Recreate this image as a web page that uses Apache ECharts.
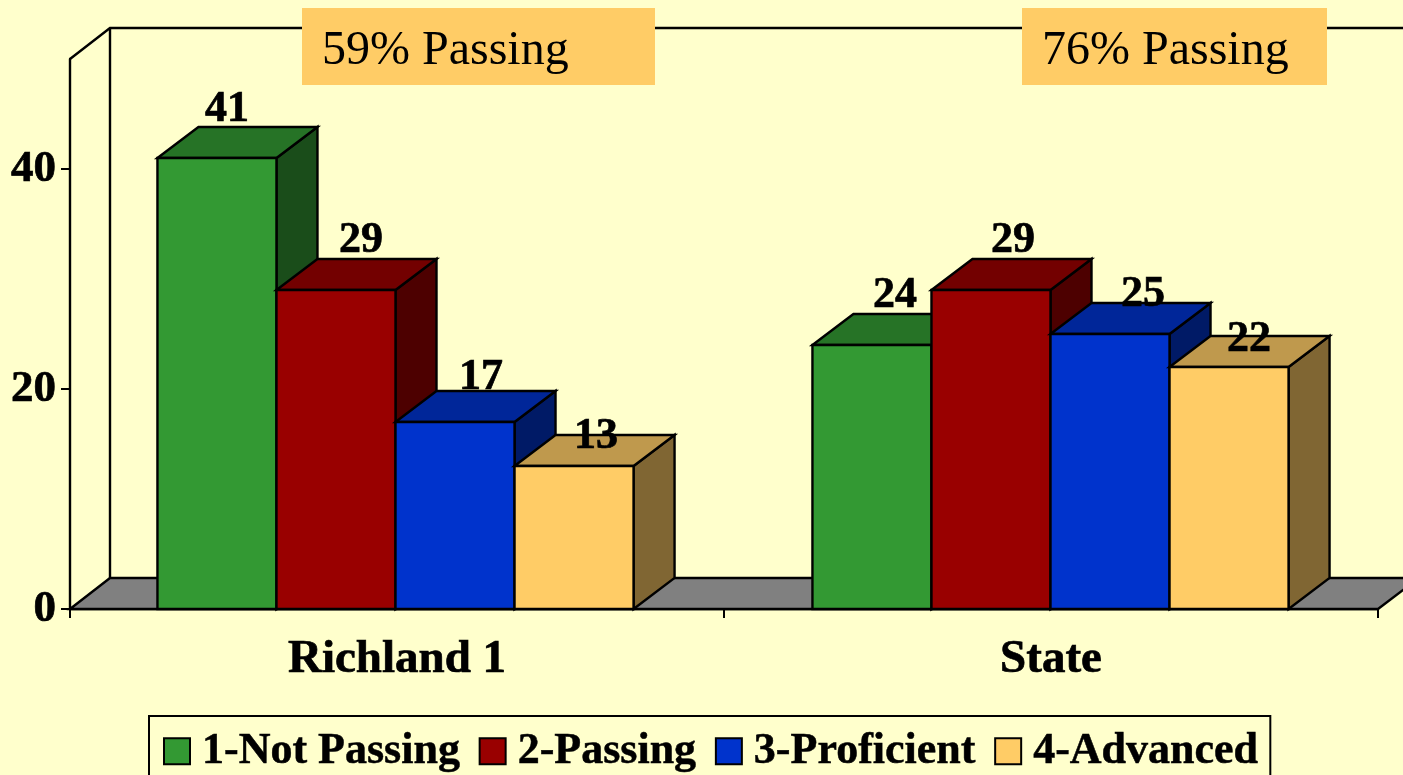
<!DOCTYPE html>
<html>
<head>
<meta charset="utf-8">
<style>html,body{margin:0;padding:0;background:#FFFFCC;overflow:hidden}#c{width:1403px;height:775px}</style>
<script src="https://cdn.jsdelivr.net/npm/echarts@6/dist/echarts.min.js"></script>
</head>
<body>
<div id="c"></div>
<script>
const categories = ['Richland 1', 'State'];
const seriesNames = ['1-Not Passing', '2-Passing', '3-Proficient', '4-Advanced'];
const notPassing = [41, 24];
const passing = [29, 29];
const proficient = [17, 25];
const advanced = [13, 22];
const yTicks = [0, 20, 40];
const notes = ['59% Passing', '76% Passing'];

// styling
const FONT = '"Liberation Serif","Times New Roman",serif';
const palette = [
  {front:'#339933', top:'#267326', side:'#1A4D1A'},
  {front:'#990000', top:'#730000', side:'#4D0000'},
  {front:'#0033CC', top:'#002699', side:'#001A66'},
  {front:'#FFCC66', top:'#BF994D', side:'#806633'}
];
const DX = 41, DY = 31;
const groupNudge = [-1.5, -0.5];
// label placement relative to each bar's front-top centre, per series then category
const labelShift = [
  [[10,-48],[23,-49]],
  [[25,-49],[22,-49]],
  [[26,-44],[33,-39]],
  [[22,-29],[20,-27]]
];
const allValues = [notPassing, passing, proficient, advanced];
const EDGE = 2.4;

function poly(points, fill) {
  return {type:'polygon', shape:{points}, style:{fill, stroke:'#000', lineWidth:EDGE, lineJoin:'miter'}};
}
function barRenderer(si) {
  return function (params, api) {
    const cat = api.value(0), v = api.value(1);
    const base = api.coord([cat, 0]), top = api.coord([cat, v]);
    const w = api.size([1, 0])[0] * 0.182;
    const x0 = base[0] + groupNudge[cat] + (si - 2) * w, x1 = x0 + w;
    const y0 = base[1], y1 = top[1];
    const c = palette[si];
    const shift = labelShift[si][params.dataIndex];
    return {type:'group', children:[
      poly([[x1,y0],[x1+DX,y0-DY],[x1+DX,y1-DY],[x1,y1]], c.side),
      poly([[x0,y1],[x0+DX,y1-DY],[x1+DX,y1-DY],[x1,y1]], c.top),
      poly([[x0,y0],[x0,y1],[x1,y1],[x1,y0]], c.front),
      {type:'text', z2:100, x:(x0+x1)/2+shift[0], y:y1+shift[1],
       style:{text:String(v), font:'bold 44px '+FONT, fill:'#000', stroke:'#000', lineWidth:0.7, align:'center', verticalAlign:'middle'}}
    ]};
  };
}
function frameRenderer(params) {
  const g = params.coordSys;
  const L = g.x, R = g.x + g.width, T = g.y, B = g.y + g.height;
  return {type:'group', children:[
    {type:'polyline', shape:{points:[[L,T],[L+DX-1,T-DY],[R+DX,T-DY]]}, style:{fill:null, stroke:'#000', lineWidth:EDGE}},
    {type:'line', shape:{x1:L+DX-1,y1:T-DY,x2:L+DX-1,y2:B-DY}, style:{stroke:'#000', lineWidth:EDGE}},
    poly([[L,B],[L+DX-1,B-DY],[R+DX,B-DY],[R,B]], '#808080')
  ]};
}

const series = [{
  type:'custom', name:'frame', data:[[0,0]], clip:false, silent:true, z:1,
  renderItem:frameRenderer, encode:{x:0,y:1}
}].concat(seriesNames.map((name, si) => ({
  type:'custom', name, z:2, clip:false,
  data: allValues[si].map((v, i) => [i, v]),
  encode:{x:0, y:1},
  itemStyle:{color:palette[si].front, borderColor:'#000', borderWidth:EDGE},
  renderItem:barRenderer(si)
})));

function note(x, width, text) {
  return {type:'rect', left:x, top:8, z:10, shape:{width, height:77},
    style:{fill:'#FFCC66', stroke:null},
    textContent:{style:{text, font:'48px '+FONT, fill:'#000'}, z:11},
    textConfig:{position:'insideLeft', distance:20, offset:[0,5]}};
}

const chart = echarts.init(document.getElementById('c'), null, {renderer:'canvas', width:1403, height:775});
chart.setOption({
  backgroundColor:'#FFFFCC',
  animation:false,
  grid:{left:70, right:25, top:59, bottom:166},
  xAxis:{type:'category', data:categories,
    axisLine:{lineStyle:{color:'#000', width:EDGE}},
    axisTick:{show:true, alignWithLabel:false, length:9, lineStyle:{color:'#000', width:2}},
    axisLabel:{color:'#000', fontFamily:'Liberation Serif', fontWeight:'bold', fontSize:47, margin:27,
      textBorderColor:'#000', textBorderWidth:0.7},
    splitLine:{show:false}},
  yAxis:{type:'value', min:0, max:50, interval:10,
    axisLine:{show:true, lineStyle:{color:'#000', width:EDGE}},
    axisTick:{show:true, length:9, customValues:yTicks, lineStyle:{color:'#000', width:2}},
    axisLabel:{color:'#000', fontFamily:'Liberation Serif', fontWeight:'bold', fontSize:45, margin:14, customValues:yTicks,
      padding:[8,0,0,0], textBorderColor:'#000', textBorderWidth:0.7},
    splitLine:{show:false}},
  legend:{data:seriesNames, left:149, top:716, orient:'horizontal', icon:'rect',
    itemWidth:26, itemHeight:26, itemGap:18.5,
    padding:[13,12,24,14], backgroundColor:'#FFFFCC', borderColor:'#000', borderWidth:2,
    textStyle:{color:'#000', fontFamily:'Liberation Serif', fontWeight:'bold', fontSize:44, padding:[8,0,0,7],
      textBorderColor:'#000', textBorderWidth:0.5},
    selectedMode:false},
  series,
  graphic:[note(302, 353, notes[0]), note(1022, 305, notes[1])]
});
</script>
</body>
</html>
